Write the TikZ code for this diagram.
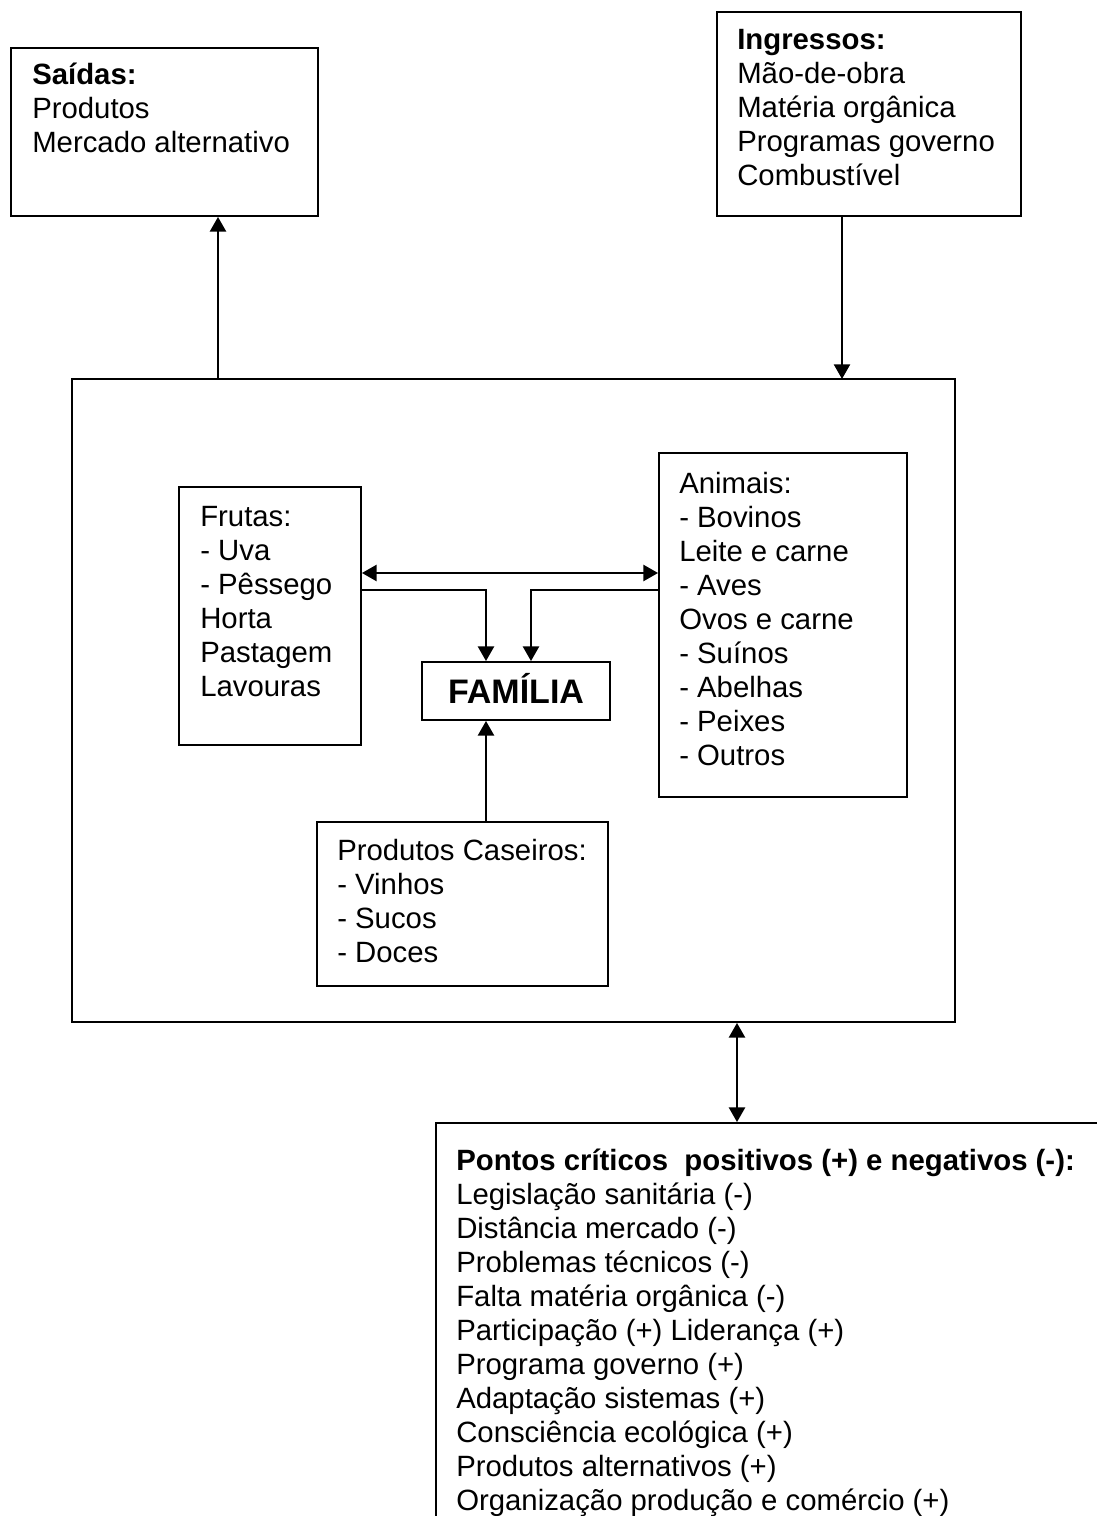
\documentclass[tikz,border=0pt]{standalone}
\usepackage{fontspec}
\setmainfont{Liberation Sans}
\usetikzlibrary{arrows.meta,fit}

% strut that fixes the height of a text block's first line
\newcommand\topstrut{\rule{0pt}{22pt}}

\begin{document}
\lineskiplimit=-20pt
\begin{tikzpicture}[x=0.75pt,y=-0.75pt,
  box/.style={draw,line width=1.4pt,inner sep=0pt},
  txt/.style={inner sep=0pt,anchor=north west,align=left,
    font=\fontsize{22pt}{25.5pt}\selectfont},
  tip/.style={},
  arr/.style={line width=1.8pt,-{Triangle[length=11pt,width=12pt]}},
  arrboth/.style={line width=1.8pt,{Triangle[length=11pt,width=12pt]}-{Triangle[length=11pt,width=12pt]}}]

\useasboundingbox[fill=white] (0,0) rectangle (1096,1516);

% outer boxes: outputs, inputs, system, critical points
\node[box,fit={(11,48) (318,216)}] (sai) {};
\node[txt] (saitxt) at (32,55) {\topstrut\textbf{Saídas:}\\Produtos\\Mercado alternativo};

\node[box,fit={(717,12) (1021,216)}] (ing) {};
\node[txt] (ingtxt) at (737,19.5) {\topstrut\textbf{Ingressos:}\\Mão-de-obra\\Matéria orgânica\\Programas governo\\Combustível};

\node[box,fit={(72,379) (955,1022)}] (sis) {};

\node[box,fit={(436,1123) (1130,1560)}] (pon) {};
\node[txt] (pontxt) at (456,1141) {\topstrut\textbf{Pontos críticos\ \ positivos (+) e negativos (-):}\\
  Legislação sanitária (-)\\Distância mercado (-)\\Problemas técnicos (-)\\Falta matéria orgânica (-)\\
  Participação (+) Liderança (+)\\Programa governo (+)\\Adaptação sistemas (+)\\
  Consciência ecológica (+)\\Produtos alternativos (+)\\Organização produção e comércio (+)};

% inner boxes
\node[box,fit={(179,487) (361,745)}] (fru) {};
\node[txt] (frutxt) at (200,496.5) {\topstrut Frutas:\\- Uva\\- Pêssego\\Horta\\Pastagem\\Lavouras};

\node[box,fit={(659,453) (907,797)}] (ani) {};
\node[txt] (anitxt) at (679,463.5) {\topstrut Animais:\\- Bovinos\\Leite e carne\\- Aves\\Ovos e carne\\- Suínos\\- Abelhas\\- Peixes\\- Outros};

\node[box,fit={(422,662) (610,720)}] (fam) {};
\node[inner sep=0pt,anchor=base,font=\fontsize{25.5pt}{28pt}\selectfont\bfseries] (famtxt) at (516,703) {FAMÍLIA};

\node[box,fit={(317,822) (608,986)}] (cas) {};
\node[txt] (castxt) at (337,831) {\topstrut Produtos Caseiros:\\- Vinhos\\- Sucos\\- Doces};

% connector anchor columns and rows
\coordinate (saiout) at (218,379);
\coordinate (ingin) at (842,379);
\coordinate (troca) at (0,573);
\coordinate (fl) at (486,590);
\coordinate (fr) at (531,590);
\coordinate (baixo) at (737,0);

% connectors
\draw[arr] (saiout) -- (saiout |- sai.south);
\draw[arr] (ingin |- ing.south) -- (ingin);
\draw[arrboth] (fru.east |- troca) -- (ani.west |- troca);
\draw[arr] (fru.east |- fl) -| (fl |- fam.north);
\draw[arr] (ani.west |- fr) -| (fr |- fam.north);
\draw[arr] (cas.north -| fl) -- (fam.south -| fl);
\draw[arrboth] (sis.south -| baixo) -- (pon.north -| baixo);

\end{tikzpicture}
\end{document}
